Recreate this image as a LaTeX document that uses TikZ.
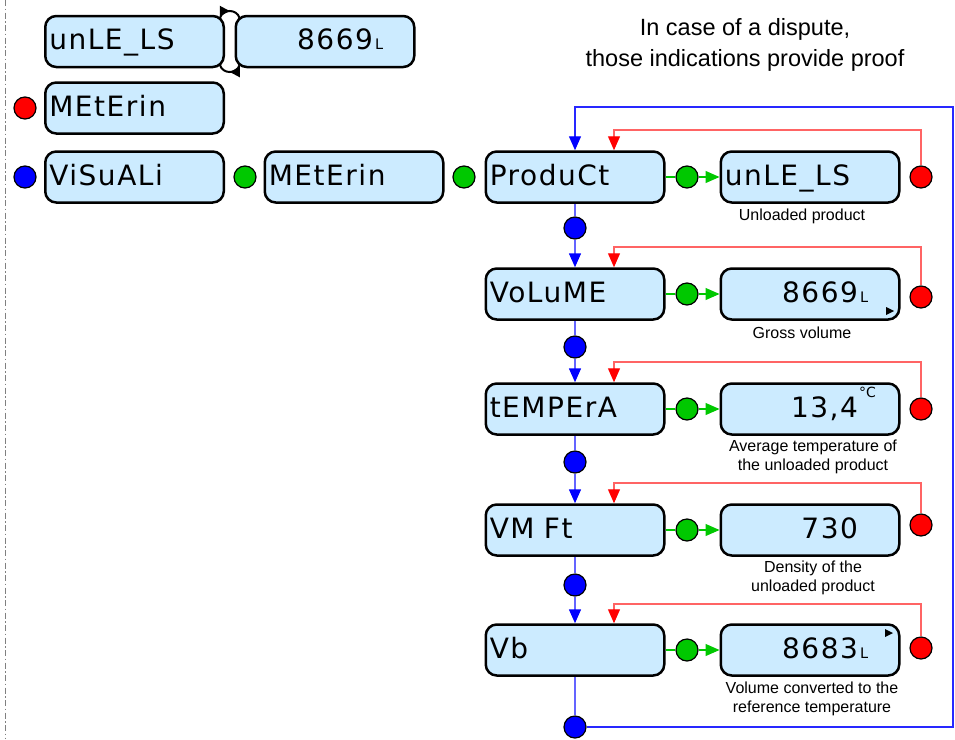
\documentclass[tikz,border=0pt]{standalone}
\usepackage{fontspec}
\setmainfont{Liberation Sans}
\newfontfamily\dvs[LetterSpace=5.5]{DejaVu Sans}
\newfontfamily\dvsplain{DejaVu Sans}
\usetikzlibrary{arrows.meta,decorations.markings,calc}
\definecolor{boxfill}{RGB}{204,235,255}
\definecolor{cred}{RGB}{255,0,0}
\definecolor{lred}{RGB}{255,100,100}
\definecolor{cgreen}{RGB}{0,200,0}
\definecolor{cblue}{RGB}{0,0,255}
\definecolor{lblue}{RGB}{100,100,255}
\definecolor{loopblue}{RGB}{40,40,255}
\newcommand{\lsuf}{\hspace{2pt}\dvsplain\fontsize{14.5}{14.5}\selectfont L}
\newcommand{\degsuf}{\hspace{1pt}\raisebox{20pt}{\dvsplain\fontsize{14}{14}\selectfont °C}}
\begin{document}
\begin{tikzpicture}[x=1pt,y=-1pt,
  lbox/.style={draw=black, fill=boxfill, line width=2.5pt, rounded corners=11pt,
    minimum width=178.5pt, minimum height=51pt, inner ysep=0pt, inner xsep=4pt,
    text width=170.5pt, align=left, text height=16pt, text depth=0pt,
    font=\dvs\fontsize{28}{30}\selectfont},
  vbox/.style={lbox, inner xsep=41.25pt, text width=96pt, align=right},
  dot/.style={circle, draw=black, line width=1.2pt, minimum size=22pt, inner sep=0pt},
  rdot/.style={dot, fill=cred},
  gdot/.style={dot, fill=cgreen},
  bdot/.style={dot, fill=cblue},
  lab/.style={font=\fontsize{16}{19}\selectfont, align=center, inner sep=0pt},
  bline/.style={color=lblue, line width=1.5pt},
  loopline/.style={color=loopblue, line width=1.3pt},
  rline/.style={color=lred, line width=1.2pt},
  gline/.style={color=cgreen, line width=1.2pt},
  btip/.tip={Triangle[length=14pt,width=12pt,color=cblue]},
  rtip/.tip={Triangle[length=14pt,width=12pt,color=cred]},
  gtip/.tip={Triangle[length=14pt,width=12pt,color=cgreen]},
  midarrow/.style={postaction=decorate, decoration={markings,
    mark=at position 0.5 with {\arrow{Triangle[length=10pt,width=10pt]}}}}
]
\useasboundingbox (0,0) rectangle (955,739);
\fill[white] (0,0) rectangle (955,739);

% left dash-dot line
\draw[gray, line width=1pt, dash pattern=on 6pt off 2.5pt on 1.5pt off 2.5pt] (5,0) -- (5,739);

% note
\node[font=\fontsize{23.5}{31}\selectfont, align=center, inner sep=0pt] (note) at (745,45)
  {In case of a dispute,\\those indications provide proof};

% top-left group
\node[lbox] (unle0) at (134.5,41.5) {unLE\_LS};
\node[vbox] (val0) at (325,41.5) {8669\rlap{\lsuf}};
\draw[black, line width=2pt, midarrow]
  ($(unle0.north east)+(-5,3)$) .. controls +(3,-9) and +(-3,-9) .. ($(val0.north west)+(5,3)$);
\draw[black, line width=2pt, midarrow]
  ($(val0.south west)+(5,-3)$) .. controls +(-3,9) and +(3,9) .. ($(unle0.south east)+(-5,-3)$);

\node[lbox] (met1) at (134.5,108) {MEtErin};
\node[rdot] (rd0) at (25,108) {};
\node[lbox] (vis) at (134.5,177) {ViSuALi};
\node[bdot] (bd0) at (25,177) {};
\node[gdot] (gd0) at (245,177) {};
\node[lbox] (met2) at (354,177) {MEtErin};
\node[gdot] (gd1) at (464,177) {};

% column boxes
\node[lbox] (prod) at (575,177) {ProduCt};
\node[lbox] (vol)  at (575,294) {VoLuME};
\node[lbox] (temp) at (575,409) {tEMPErA};
\node[lbox] (vmft) at (575,530) {VM Ft};
\node[lbox] (vb)   at (575,650) {Vb};

% value boxes
\node[lbox] (vprod) at (810,177) {unLE\_LS};
\node[vbox] (vvol)  at (810,294) {8669\rlap{\lsuf}};
\node[vbox] (vtemp) at (810,409) {13,4\rlap{\degsuf}};
\node[vbox] (vvmft) at (810,530) {730};
\node[vbox] (vvb)   at (810,650) {8683\rlap{\lsuf}};

% small triangles
\fill[black] (886,307) -- (886,315) -- (894,311) -- cycle;
\fill[black] (885,629) -- (885,637) -- (893,633) -- cycle;

% labels
\node[lab] (l1) at (802,216) {Unloaded product};
\node[lab] (l2) at (802,333) {Gross volume};
\node[lab] (l3) at (813,457) {Average temperature of\\the unloaded product};
\node[lab] (l4) at (813,578) {Density of the\\unloaded product};
\node[lab] (l5) at (812,699) {Volume converted to the\\reference temperature};

% green dots
\node[gdot] (g1) at (687,177) {};
\node[gdot] (g2) at (687,294) {};
\node[gdot] (g3) at (687,409) {};
\node[gdot] (g4) at (687,530) {};
\node[gdot] (g5) at (687,650) {};
% red dots
\node[rdot] (r1) at (921,177) {};
\node[rdot] (r2) at (921,297) {};
\node[rdot] (r3) at (921,409) {};
\node[rdot] (r4) at (921,525) {};
\node[rdot] (r5) at (921,648) {};
% blue dots
\node[bdot] (b1) at (575,228) {};
\node[bdot] (b2) at (575,347) {};
\node[bdot] (b3) at (575,462) {};
\node[bdot] (b4) at (575,585) {};
\node[bdot] (b5) at (575,727) {};

% green connectors
\draw[gline] (prod.east) -- (g1.west);
\draw[gline,-gtip] (g1.east) -- (vprod.west);
\draw[gline] (vol.east) -- (g2.west);
\draw[gline,-gtip] (g2.east) -- (vvol.west);
\draw[gline] (temp.east) -- (g3.west);
\draw[gline,-gtip] (g3.east) -- (vtemp.west);
\draw[gline] (vmft.east) -- (g4.west);
\draw[gline,-gtip] (g4.east) -- (vvmft.west);
\draw[gline] (vb.east) -- (g5.west);
\draw[gline,-gtip] (g5.east) -- (vvb.west);

% blue connectors
\draw[bline] (prod.south) -- (b1.north);
\draw[bline,-btip] (b1.south) -- (vol.north);
\draw[bline] (vol.south) -- (b2.north);
\draw[bline,-btip] (b2.south) -- (temp.north);
\draw[bline] (temp.south) -- (b3.north);
\draw[bline,-btip] (b3.south) -- (vmft.north);
\draw[bline] (vmft.south) -- (b4.north);
\draw[bline,-btip] (b4.south) -- (vb.north);
\draw[bline] (vb.south) -- (b5.north);
\coordinate (cTR) at (953,107);
\draw[loopline,-btip] (b5.east) -| (cTR) -| (prod.north);

% red loops
\coordinate (rc1) at (614,130);
\coordinate (rc2) at (614,247);
\coordinate (rc3) at (614,362);
\coordinate (rc4) at (614,483);
\coordinate (rc5) at (614,604);
\draw[rline,-rtip] (r1.north) |- (rc1) -- (rc1 |- prod.north);
\draw[rline,-rtip] (r2.north) |- (rc2) -- (rc2 |- vol.north);
\draw[rline,-rtip] (r3.north) |- (rc3) -- (rc3 |- temp.north);
\draw[rline,-rtip] (r4.north) |- (rc4) -- (rc4 |- vmft.north);
\draw[rline,-rtip] (r5.north) |- (rc5) -- (rc5 |- vb.north);
\end{tikzpicture}
\end{document}
